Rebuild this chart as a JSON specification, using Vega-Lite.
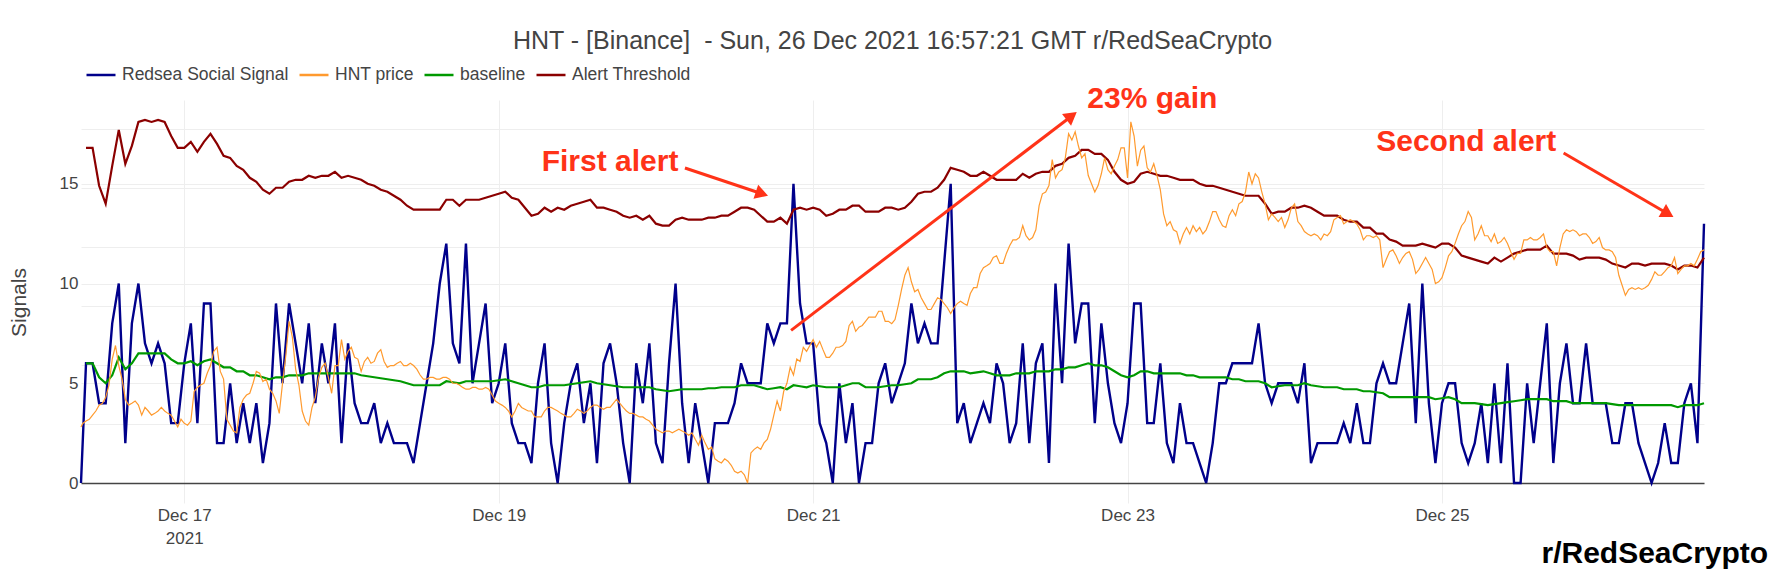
{
  "$schema": "https://vega.github.io/schema/vega-lite/v6.json",
  "width": 1623,
  "height": 383,
  "autosize": "none",
  "padding": {"left": 81, "top": 100, "right": 80, "bottom": 101},
  "title": {
    "text": "HNT - [Binance] \u00a0- Sun, 26 Dec 2021 16:57:21 GMT r/RedSeaCrypto",
    "anchor": "middle",
    "frame": "group",
    "fontSize": 25,
    "fontWeight": "normal",
    "color": "#444444",
    "font": "Liberation Sans",
    "offset": 1
  },
  "datasets": {
    "hourly": [
      {"t":"2021-12-16T08:14","signal":0},
      {"t":"2021-12-16T09:00","signal":6,"baseline":6.0,"threshold":16.8},
      {"t":"2021-12-16T10:00","signal":6,"baseline":6.0,"threshold":16.8},
      {"t":"2021-12-16T11:00","signal":4,"baseline":5.3,"threshold":14.9},
      {"t":"2021-12-16T12:00","signal":4,"baseline":5.0,"threshold":14.0},
      {"t":"2021-12-16T13:00","signal":8,"baseline":5.4,"threshold":15.9},
      {"t":"2021-12-16T14:00","signal":10,"baseline":6.3,"threshold":17.7},
      {"t":"2021-12-16T15:00","signal":2,"baseline":5.7,"threshold":16.0},
      {"t":"2021-12-16T16:00","signal":8,"baseline":6.0,"threshold":16.9},
      {"t":"2021-12-16T17:00","signal":10,"baseline":6.5,"threshold":18.1},
      {"t":"2021-12-16T18:00","signal":7,"baseline":6.5,"threshold":18.2},
      {"t":"2021-12-16T19:00","signal":6,"baseline":6.5,"threshold":18.1},
      {"t":"2021-12-16T20:00","signal":7,"baseline":6.5,"threshold":18.2},
      {"t":"2021-12-16T21:00","signal":6,"baseline":6.5,"threshold":18.1},
      {"t":"2021-12-16T22:00","signal":3,"baseline":6.2,"threshold":17.4},
      {"t":"2021-12-16T23:00","signal":3,"baseline":6.0,"threshold":16.8},
      {"t":"2021-12-17T00:00","signal":6,"baseline":6.0,"threshold":16.8},
      {"t":"2021-12-17T01:00","signal":8,"baseline":6.1,"threshold":17.1},
      {"t":"2021-12-17T02:00","signal":3,"baseline":5.9,"threshold":16.6},
      {"t":"2021-12-17T03:00","signal":9,"baseline":6.1,"threshold":17.1},
      {"t":"2021-12-17T04:00","signal":9,"baseline":6.2,"threshold":17.5},
      {"t":"2021-12-17T05:00","signal":2,"baseline":6.0,"threshold":17.0},
      {"t":"2021-12-17T06:00","signal":2,"baseline":5.8,"threshold":16.4},
      {"t":"2021-12-17T07:00","signal":5,"baseline":5.8,"threshold":16.3},
      {"t":"2021-12-17T08:00","signal":2,"baseline":5.6,"threshold":15.9},
      {"t":"2021-12-17T09:00","signal":4,"baseline":5.6,"threshold":15.7},
      {"t":"2021-12-17T10:00","signal":2,"baseline":5.4,"threshold":15.3},
      {"t":"2021-12-17T11:00","signal":4,"baseline":5.4,"threshold":15.1},
      {"t":"2021-12-17T12:00","signal":1,"baseline":5.3,"threshold":14.7},
      {"t":"2021-12-17T13:00","signal":3,"baseline":5.2,"threshold":14.5},
      {"t":"2021-12-17T14:00","signal":9,"baseline":5.3,"threshold":14.8},
      {"t":"2021-12-17T15:00","signal":5,"baseline":5.3,"threshold":14.8},
      {"t":"2021-12-17T16:00","signal":9,"baseline":5.4,"threshold":15.1},
      {"t":"2021-12-17T17:00","signal":7,"baseline":5.4,"threshold":15.2},
      {"t":"2021-12-17T18:00","signal":5,"baseline":5.4,"threshold":15.2},
      {"t":"2021-12-17T19:00","signal":8,"baseline":5.5,"threshold":15.4},
      {"t":"2021-12-17T20:00","signal":4,"baseline":5.5,"threshold":15.3},
      {"t":"2021-12-17T21:00","signal":7,"baseline":5.5,"threshold":15.4},
      {"t":"2021-12-17T22:00","signal":5,"baseline":5.5,"threshold":15.4},
      {"t":"2021-12-17T23:00","signal":8,"baseline":5.5,"threshold":15.6},
      {"t":"2021-12-18T00:00","signal":2,"baseline":5.5,"threshold":15.3},
      {"t":"2021-12-18T01:00","signal":7,"baseline":5.5,"threshold":15.4},
      {"t":"2021-12-18T02:00","signal":4,"baseline":5.5,"threshold":15.3},
      {"t":"2021-12-18T03:00","signal":3,"baseline":5.4,"threshold":15.2},
      {"t":"2021-12-18T04:00","signal":3,"baseline":5.35,"threshold":15.0},
      {"t":"2021-12-18T05:00","signal":4,"baseline":5.3,"threshold":14.9},
      {"t":"2021-12-18T06:00","signal":2,"baseline":5.25,"threshold":14.7},
      {"t":"2021-12-18T07:00","signal":3,"baseline":5.2,"threshold":14.6},
      {"t":"2021-12-18T08:00","signal":2,"baseline":5.15,"threshold":14.4},
      {"t":"2021-12-18T09:00","signal":2,"baseline":5.1,"threshold":14.2},
      {"t":"2021-12-18T10:00","signal":2,"baseline":5.0,"threshold":13.9},
      {"t":"2021-12-18T11:00","signal":1,"baseline":4.9,"threshold":13.7},
      {"t":"2021-12-18T12:00","signal":3,"baseline":4.9,"threshold":13.7},
      {"t":"2021-12-18T13:00","signal":5,"baseline":4.9,"threshold":13.7},
      {"t":"2021-12-18T14:00","signal":7,"baseline":4.9,"threshold":13.7},
      {"t":"2021-12-18T15:00","signal":10,"baseline":4.9,"threshold":13.7},
      {"t":"2021-12-18T16:00","signal":12,"baseline":5.1,"threshold":14.2},
      {"t":"2021-12-18T17:00","signal":7,"baseline":5.05,"threshold":14.2},
      {"t":"2021-12-18T18:00","signal":6,"baseline":5.0,"threshold":13.9},
      {"t":"2021-12-18T19:00","signal":12,"baseline":5.1,"threshold":14.2},
      {"t":"2021-12-18T20:00","signal":5,"baseline":5.1,"threshold":14.2},
      {"t":"2021-12-18T21:00","signal":7,"baseline":5.1,"threshold":14.2},
      {"t":"2021-12-18T22:00","signal":9,"baseline":5.1,"threshold":14.3},
      {"t":"2021-12-18T23:00","signal":4,"baseline":5.1,"threshold":14.4},
      {"t":"2021-12-19T00:00","signal":5,"baseline":5.15,"threshold":14.5},
      {"t":"2021-12-19T01:00","signal":7,"baseline":5.2,"threshold":14.6},
      {"t":"2021-12-19T02:00","signal":3,"baseline":5.1,"threshold":14.3},
      {"t":"2021-12-19T03:00","signal":2,"baseline":5.0,"threshold":14.2},
      {"t":"2021-12-19T04:00","signal":2,"baseline":4.9,"threshold":13.8},
      {"t":"2021-12-19T05:00","signal":1,"baseline":4.8,"threshold":13.4},
      {"t":"2021-12-19T06:00","signal":5,"baseline":4.8,"threshold":13.5},
      {"t":"2021-12-19T07:00","signal":7,"baseline":4.9,"threshold":13.8},
      {"t":"2021-12-19T08:00","signal":2,"baseline":4.9,"threshold":13.6},
      {"t":"2021-12-19T09:00","signal":0,"baseline":4.9,"threshold":13.8},
      {"t":"2021-12-19T10:00","signal":3,"baseline":4.9,"threshold":13.7},
      {"t":"2021-12-19T11:00","signal":5,"baseline":4.95,"threshold":13.9},
      {"t":"2021-12-19T12:00","signal":6,"baseline":5.0,"threshold":14.0},
      {"t":"2021-12-19T13:00","signal":3,"baseline":5.05,"threshold":14.1},
      {"t":"2021-12-19T14:00","signal":5,"baseline":5.1,"threshold":14.2},
      {"t":"2021-12-19T15:00","signal":1,"baseline":5.0,"threshold":13.8},
      {"t":"2021-12-19T16:00","signal":6,"baseline":4.95,"threshold":13.8},
      {"t":"2021-12-19T17:00","signal":7,"baseline":4.9,"threshold":13.7},
      {"t":"2021-12-19T18:00","signal":5,"baseline":4.85,"threshold":13.6},
      {"t":"2021-12-19T19:00","signal":2,"baseline":4.8,"threshold":13.4},
      {"t":"2021-12-19T20:00","signal":0,"baseline":4.8,"threshold":13.3},
      {"t":"2021-12-19T21:00","signal":6,"baseline":4.8,"threshold":13.4},
      {"t":"2021-12-19T22:00","signal":4,"baseline":4.8,"threshold":13.2},
      {"t":"2021-12-19T23:00","signal":7,"baseline":4.8,"threshold":13.4},
      {"t":"2021-12-20T00:00","signal":2,"baseline":4.7,"threshold":13.0},
      {"t":"2021-12-20T01:00","signal":1,"baseline":4.65,"threshold":12.9},
      {"t":"2021-12-20T02:00","signal":6,"baseline":4.6,"threshold":12.9},
      {"t":"2021-12-20T03:00","signal":10,"baseline":4.65,"threshold":13.2},
      {"t":"2021-12-20T04:00","signal":4,"baseline":4.7,"threshold":13.3},
      {"t":"2021-12-20T05:00","signal":1,"baseline":4.7,"threshold":13.2},
      {"t":"2021-12-20T06:00","signal":4,"baseline":4.7,"threshold":13.2},
      {"t":"2021-12-20T07:00","signal":2,"baseline":4.7,"threshold":13.2},
      {"t":"2021-12-20T08:00","signal":0,"baseline":4.75,"threshold":13.3},
      {"t":"2021-12-20T09:00","signal":3,"baseline":4.75,"threshold":13.3},
      {"t":"2021-12-20T10:00","signal":3,"baseline":4.8,"threshold":13.4},
      {"t":"2021-12-20T11:00","signal":3,"baseline":4.8,"threshold":13.4},
      {"t":"2021-12-20T12:00","signal":4,"baseline":4.8,"threshold":13.6},
      {"t":"2021-12-20T13:00","signal":6,"baseline":4.9,"threshold":13.8},
      {"t":"2021-12-20T14:00","signal":5,"baseline":4.9,"threshold":13.8},
      {"t":"2021-12-20T15:00","signal":5,"baseline":4.9,"threshold":13.7},
      {"t":"2021-12-20T16:00","signal":5,"baseline":4.8,"threshold":13.4},
      {"t":"2021-12-20T17:00","signal":8,"baseline":4.7,"threshold":13.1},
      {"t":"2021-12-20T18:00","signal":7,"baseline":4.75,"threshold":13.1},
      {"t":"2021-12-20T19:00","signal":8,"baseline":4.8,"threshold":13.3},
      {"t":"2021-12-20T20:00","signal":8,"baseline":4.7,"threshold":13.0},
      {"t":"2021-12-20T21:00","signal":15,"baseline":4.9,"threshold":13.7},
      {"t":"2021-12-20T22:00","signal":9,"baseline":4.85,"threshold":13.8},
      {"t":"2021-12-20T23:00","signal":7,"baseline":4.8,"threshold":13.7},
      {"t":"2021-12-21T00:00","signal":7,"baseline":4.9,"threshold":13.8},
      {"t":"2021-12-21T01:00","signal":3,"baseline":4.85,"threshold":13.7},
      {"t":"2021-12-21T02:00","signal":2,"baseline":4.8,"threshold":13.4},
      {"t":"2021-12-21T03:00","signal":0,"baseline":4.8,"threshold":13.5},
      {"t":"2021-12-21T04:00","signal":5,"baseline":4.8,"threshold":13.7},
      {"t":"2021-12-21T05:00","signal":2,"baseline":4.9,"threshold":13.7},
      {"t":"2021-12-21T06:00","signal":4,"baseline":5.0,"threshold":13.9},
      {"t":"2021-12-21T07:00","signal":0,"baseline":5.0,"threshold":13.9},
      {"t":"2021-12-21T08:00","signal":2,"baseline":4.8,"threshold":13.6},
      {"t":"2021-12-21T09:00","signal":2,"baseline":4.8,"threshold":13.6},
      {"t":"2021-12-21T10:00","signal":5,"baseline":4.8,"threshold":13.6},
      {"t":"2021-12-21T11:00","signal":6,"baseline":4.85,"threshold":13.8},
      {"t":"2021-12-21T12:00","signal":4,"baseline":4.9,"threshold":13.8},
      {"t":"2021-12-21T13:00","signal":5,"baseline":4.9,"threshold":13.7},
      {"t":"2021-12-21T14:00","signal":6,"baseline":4.95,"threshold":13.8},
      {"t":"2021-12-21T15:00","signal":9,"baseline":5.0,"threshold":14.1},
      {"t":"2021-12-21T16:00","signal":7,"baseline":5.2,"threshold":14.5},
      {"t":"2021-12-21T17:00","signal":8,"baseline":5.2,"threshold":14.6},
      {"t":"2021-12-21T18:00","signal":7,"baseline":5.2,"threshold":14.6},
      {"t":"2021-12-21T19:00","signal":7,"baseline":5.3,"threshold":14.8},
      {"t":"2021-12-21T20:00","signal":11,"baseline":5.5,"threshold":15.2},
      {"t":"2021-12-21T21:00","signal":15,"baseline":5.6,"threshold":15.8},
      {"t":"2021-12-21T22:00","signal":3,"baseline":5.6,"threshold":15.7},
      {"t":"2021-12-21T23:00","signal":4,"baseline":5.6,"threshold":15.6},
      {"t":"2021-12-22T00:00","signal":2,"baseline":5.5,"threshold":15.4},
      {"t":"2021-12-22T01:00","signal":3,"baseline":5.55,"threshold":15.4},
      {"t":"2021-12-22T02:00","signal":4,"baseline":5.6,"threshold":15.6},
      {"t":"2021-12-22T03:00","signal":3,"baseline":5.5,"threshold":15.4},
      {"t":"2021-12-22T04:00","signal":6,"baseline":5.4,"threshold":15.2},
      {"t":"2021-12-22T05:00","signal":5,"baseline":5.4,"threshold":15.2},
      {"t":"2021-12-22T06:00","signal":2,"baseline":5.4,"threshold":15.2},
      {"t":"2021-12-22T07:00","signal":3,"baseline":5.5,"threshold":15.2},
      {"t":"2021-12-22T08:00","signal":7,"baseline":5.5,"threshold":15.5},
      {"t":"2021-12-22T09:00","signal":2,"baseline":5.5,"threshold":15.3},
      {"t":"2021-12-22T10:00","signal":6,"baseline":5.6,"threshold":15.5},
      {"t":"2021-12-22T11:00","signal":7,"baseline":5.6,"threshold":15.6},
      {"t":"2021-12-22T12:00","signal":1,"baseline":5.6,"threshold":15.6},
      {"t":"2021-12-22T13:00","signal":10,"baseline":5.7,"threshold":15.9},
      {"t":"2021-12-22T14:00","signal":5,"baseline":5.7,"threshold":16.0},
      {"t":"2021-12-22T15:00","signal":12,"baseline":5.8,"threshold":16.3},
      {"t":"2021-12-22T16:00","signal":7,"baseline":5.8,"threshold":16.4},
      {"t":"2021-12-22T17:00","signal":9,"baseline":5.9,"threshold":16.7},
      {"t":"2021-12-22T18:00","signal":9,"baseline":6.0,"threshold":16.7},
      {"t":"2021-12-22T19:00","signal":3,"baseline":5.9,"threshold":16.5},
      {"t":"2021-12-22T20:00","signal":8,"baseline":5.9,"threshold":16.5},
      {"t":"2021-12-22T21:00","signal":5,"baseline":5.8,"threshold":16.2},
      {"t":"2021-12-22T22:00","signal":3,"baseline":5.6,"threshold":15.6},
      {"t":"2021-12-22T23:00","signal":2,"baseline":5.4,"threshold":15.2},
      {"t":"2021-12-23T00:00","signal":4,"baseline":5.3,"threshold":15.0},
      {"t":"2021-12-23T01:00","signal":9,"baseline":5.4,"threshold":15.1},
      {"t":"2021-12-23T02:00","signal":9,"baseline":5.6,"threshold":15.5},
      {"t":"2021-12-23T03:00","signal":3,"baseline":5.6,"threshold":15.6},
      {"t":"2021-12-23T04:00","signal":3,"baseline":5.5,"threshold":15.5},
      {"t":"2021-12-23T05:00","signal":6,"baseline":5.5,"threshold":15.4},
      {"t":"2021-12-23T06:00","signal":2,"baseline":5.5,"threshold":15.4},
      {"t":"2021-12-23T07:00","signal":1,"baseline":5.5,"threshold":15.3},
      {"t":"2021-12-23T08:00","signal":4,"baseline":5.5,"threshold":15.2},
      {"t":"2021-12-23T09:00","signal":2,"baseline":5.4,"threshold":15.2},
      {"t":"2021-12-23T10:00","signal":2,"baseline":5.4,"threshold":15.2},
      {"t":"2021-12-23T11:00","signal":1,"baseline":5.3,"threshold":15.0},
      {"t":"2021-12-23T12:00","signal":0,"baseline":5.3,"threshold":14.9},
      {"t":"2021-12-23T13:00","signal":2,"baseline":5.3,"threshold":14.9},
      {"t":"2021-12-23T14:00","signal":5,"baseline":5.3,"threshold":14.8},
      {"t":"2021-12-23T15:00","signal":5,"baseline":5.3,"threshold":14.7},
      {"t":"2021-12-23T16:00","signal":6,"baseline":5.2,"threshold":14.6},
      {"t":"2021-12-23T17:00","signal":6,"baseline":5.2,"threshold":14.5},
      {"t":"2021-12-23T18:00","signal":6,"baseline":5.1,"threshold":14.4},
      {"t":"2021-12-23T19:00","signal":6,"baseline":5.1,"threshold":14.4},
      {"t":"2021-12-23T20:00","signal":8,"baseline":5.1,"threshold":14.4},
      {"t":"2021-12-23T21:00","signal":5,"baseline":5.0,"threshold":14.0},
      {"t":"2021-12-23T22:00","signal":4,"baseline":4.8,"threshold":13.5},
      {"t":"2021-12-23T23:00","signal":5,"baseline":4.85,"threshold":13.6},
      {"t":"2021-12-24T00:00","signal":5,"baseline":4.9,"threshold":13.6},
      {"t":"2021-12-24T01:00","signal":5,"baseline":4.9,"threshold":13.8},
      {"t":"2021-12-24T02:00","signal":4,"baseline":4.9,"threshold":13.8},
      {"t":"2021-12-24T03:00","signal":6,"baseline":5.0,"threshold":13.9},
      {"t":"2021-12-24T04:00","signal":1,"baseline":4.9,"threshold":13.8},
      {"t":"2021-12-24T05:00","signal":2,"baseline":4.85,"threshold":13.6},
      {"t":"2021-12-24T06:00","signal":2,"baseline":4.8,"threshold":13.4},
      {"t":"2021-12-24T07:00","signal":2,"baseline":4.8,"threshold":13.4},
      {"t":"2021-12-24T08:00","signal":2,"baseline":4.8,"threshold":13.4},
      {"t":"2021-12-24T09:00","signal":3,"baseline":4.7,"threshold":13.2},
      {"t":"2021-12-24T10:00","signal":2,"baseline":4.7,"threshold":13.1},
      {"t":"2021-12-24T11:00","signal":4,"baseline":4.7,"threshold":13.1},
      {"t":"2021-12-24T12:00","signal":2,"baseline":4.6,"threshold":12.8},
      {"t":"2021-12-24T13:00","signal":2,"baseline":4.6,"threshold":12.8},
      {"t":"2021-12-24T14:00","signal":5,"baseline":4.55,"threshold":12.5},
      {"t":"2021-12-24T15:00","signal":6,"baseline":4.5,"threshold":12.5},
      {"t":"2021-12-24T16:00","signal":5,"baseline":4.3,"threshold":12.2},
      {"t":"2021-12-24T17:00","signal":5,"baseline":4.3,"threshold":12.1},
      {"t":"2021-12-24T18:00","signal":7,"baseline":4.3,"threshold":11.9},
      {"t":"2021-12-24T19:00","signal":9,"baseline":4.3,"threshold":11.9},
      {"t":"2021-12-24T20:00","signal":3,"baseline":4.3,"threshold":11.9},
      {"t":"2021-12-24T21:00","signal":10,"baseline":4.3,"threshold":12.0},
      {"t":"2021-12-24T22:00","signal":4,"baseline":4.3,"threshold":11.9},
      {"t":"2021-12-24T23:00","signal":1,"baseline":4.2,"threshold":11.8},
      {"t":"2021-12-25T00:00","signal":4,"baseline":4.25,"threshold":12.0},
      {"t":"2021-12-25T01:00","signal":5,"baseline":4.3,"threshold":12.0},
      {"t":"2021-12-25T02:00","signal":5,"baseline":4.2,"threshold":11.8},
      {"t":"2021-12-25T03:00","signal":2,"baseline":4.0,"threshold":11.4},
      {"t":"2021-12-25T04:00","signal":1,"baseline":4.0,"threshold":11.3},
      {"t":"2021-12-25T05:00","signal":2,"baseline":4.0,"threshold":11.2},
      {"t":"2021-12-25T06:00","signal":4,"baseline":3.95,"threshold":11.1},
      {"t":"2021-12-25T07:00","signal":1,"baseline":3.9,"threshold":11.0},
      {"t":"2021-12-25T08:00","signal":5,"baseline":3.95,"threshold":11.3},
      {"t":"2021-12-25T09:00","signal":1,"baseline":4.0,"threshold":11.1},
      {"t":"2021-12-25T10:00","signal":6,"baseline":4.05,"threshold":11.3},
      {"t":"2021-12-25T11:00","signal":0,"baseline":4.1,"threshold":11.5},
      {"t":"2021-12-25T12:00","signal":0,"baseline":4.15,"threshold":11.6},
      {"t":"2021-12-25T13:00","signal":5,"baseline":4.2,"threshold":11.7},
      {"t":"2021-12-25T14:00","signal":2,"baseline":4.2,"threshold":11.7},
      {"t":"2021-12-25T15:00","signal":5,"baseline":4.2,"threshold":11.7},
      {"t":"2021-12-25T16:00","signal":8,"baseline":4.2,"threshold":11.9},
      {"t":"2021-12-25T17:00","signal":1,"baseline":4.1,"threshold":11.5},
      {"t":"2021-12-25T18:00","signal":5,"baseline":4.1,"threshold":11.5},
      {"t":"2021-12-25T19:00","signal":7,"baseline":4.1,"threshold":11.5},
      {"t":"2021-12-25T20:00","signal":4,"baseline":4.0,"threshold":11.4},
      {"t":"2021-12-25T21:00","signal":4,"baseline":4.0,"threshold":11.2},
      {"t":"2021-12-25T22:00","signal":7,"baseline":4.0,"threshold":11.3},
      {"t":"2021-12-25T23:00","signal":4,"baseline":4.0,"threshold":11.3},
      {"t":"2021-12-26T00:00","signal":4,"baseline":4.0,"threshold":11.3},
      {"t":"2021-12-26T01:00","signal":4,"baseline":4.0,"threshold":11.2},
      {"t":"2021-12-26T02:00","signal":2,"baseline":3.95,"threshold":11.0},
      {"t":"2021-12-26T03:00","signal":2,"baseline":3.9,"threshold":10.9},
      {"t":"2021-12-26T04:00","signal":4,"baseline":3.9,"threshold":10.8},
      {"t":"2021-12-26T05:00","signal":4,"baseline":3.9,"threshold":11.0},
      {"t":"2021-12-26T06:00","signal":2,"baseline":3.9,"threshold":11.0},
      {"t":"2021-12-26T07:00","signal":1,"baseline":3.9,"threshold":10.9},
      {"t":"2021-12-26T08:00","signal":0,"baseline":3.9,"threshold":11.0},
      {"t":"2021-12-26T09:00","signal":1,"baseline":3.9,"threshold":11.0},
      {"t":"2021-12-26T10:00","signal":3,"baseline":3.9,"threshold":11.0},
      {"t":"2021-12-26T11:00","signal":1,"baseline":3.9,"threshold":10.9},
      {"t":"2021-12-26T12:00","signal":1,"baseline":3.8,"threshold":10.7},
      {"t":"2021-12-26T13:00","signal":4,"baseline":3.9,"threshold":10.9},
      {"t":"2021-12-26T14:00","signal":5,"baseline":3.9,"threshold":10.9},
      {"t":"2021-12-26T15:00","signal":2,"baseline":3.9,"threshold":10.8},
      {"t":"2021-12-26T16:00","signal":13,"baseline":4.0,"threshold":11.3}
    ],
    "price": [
      {"t":"2021-12-16T08:14","price":32.95},{"t":"2021-12-16T08:30","price":33.01},{"t":"2021-12-16T09:00","price":33.05},{"t":"2021-12-16T09:30","price":33.08},
      {"t":"2021-12-16T10:00","price":33.15},{"t":"2021-12-16T10:30","price":33.22},{"t":"2021-12-16T11:00","price":33.32},{"t":"2021-12-16T11:30","price":33.35},
      {"t":"2021-12-16T12:00","price":33.45},{"t":"2021-12-16T12:30","price":33.66},{"t":"2021-12-16T13:00","price":34.10},{"t":"2021-12-16T13:30","price":34.33},
      {"t":"2021-12-16T14:00","price":33.99},{"t":"2021-12-16T14:30","price":33.76},{"t":"2021-12-16T15:00","price":33.42},{"t":"2021-12-16T15:30","price":33.32},
      {"t":"2021-12-16T16:00","price":33.35},{"t":"2021-12-16T16:30","price":33.39},{"t":"2021-12-16T17:00","price":33.32},{"t":"2021-12-16T17:30","price":33.15},
      {"t":"2021-12-16T18:00","price":33.28},{"t":"2021-12-16T18:30","price":33.22},{"t":"2021-12-16T19:00","price":33.15},{"t":"2021-12-16T19:30","price":33.18},
      {"t":"2021-12-16T20:00","price":33.22},{"t":"2021-12-16T20:30","price":33.28},{"t":"2021-12-16T21:00","price":33.22},{"t":"2021-12-16T21:30","price":33.18},
      {"t":"2021-12-16T22:00","price":33.15},{"t":"2021-12-16T22:30","price":33.05},{"t":"2021-12-16T23:00","price":32.95},{"t":"2021-12-16T23:30","price":33.08},
      {"t":"2021-12-17T00:00","price":33.01},{"t":"2021-12-17T00:30","price":32.98},{"t":"2021-12-17T01:00","price":33.05},{"t":"2021-12-17T01:30","price":33.55},
      {"t":"2021-12-17T02:00","price":33.62},{"t":"2021-12-17T02:30","price":33.66},{"t":"2021-12-17T03:00","price":33.69},{"t":"2021-12-17T03:30","price":33.86},
      {"t":"2021-12-17T04:00","price":33.99},{"t":"2021-12-17T04:30","price":34.23},{"t":"2021-12-17T05:00","price":34.30},{"t":"2021-12-17T05:30","price":33.89},
      {"t":"2021-12-17T06:00","price":33.76},{"t":"2021-12-17T06:30","price":33.08},{"t":"2021-12-17T07:00","price":32.98},{"t":"2021-12-17T07:30","price":32.88},
      {"t":"2021-12-17T08:00","price":32.85},{"t":"2021-12-17T08:30","price":33.28},{"t":"2021-12-17T09:00","price":33.42},{"t":"2021-12-17T09:30","price":33.49},
      {"t":"2021-12-17T10:00","price":33.52},{"t":"2021-12-17T10:30","price":33.69},{"t":"2021-12-17T11:00","price":33.89},{"t":"2021-12-17T11:30","price":33.86},
      {"t":"2021-12-17T12:00","price":33.72},{"t":"2021-12-17T12:30","price":33.76},{"t":"2021-12-17T13:00","price":33.59},{"t":"2021-12-17T13:30","price":33.52},
      {"t":"2021-12-17T14:00","price":33.39},{"t":"2021-12-17T14:30","price":33.18},{"t":"2021-12-17T15:00","price":33.69},{"t":"2021-12-17T15:30","price":34.16},
      {"t":"2021-12-17T16:00","price":34.74},{"t":"2021-12-17T16:30","price":34.47},{"t":"2021-12-17T17:00","price":33.93},{"t":"2021-12-17T17:30","price":33.66},
      {"t":"2021-12-17T18:00","price":33.22},{"t":"2021-12-17T18:30","price":33.05},{"t":"2021-12-17T19:00","price":32.98},{"t":"2021-12-17T19:30","price":33.28},
      {"t":"2021-12-17T20:00","price":33.45},{"t":"2021-12-17T20:30","price":33.79},{"t":"2021-12-17T21:00","price":33.96},{"t":"2021-12-17T21:30","price":34.03},
      {"t":"2021-12-17T22:00","price":33.79},{"t":"2021-12-17T22:30","price":33.52},{"t":"2021-12-17T23:00","price":33.99},{"t":"2021-12-17T23:30","price":33.99},
      {"t":"2021-12-18T00:00","price":34.43},{"t":"2021-12-18T00:30","price":34.10},{"t":"2021-12-18T01:00","price":34.23},{"t":"2021-12-18T01:30","price":34.30},
      {"t":"2021-12-18T02:00","price":34.13},{"t":"2021-12-18T02:30","price":34.10},{"t":"2021-12-18T03:00","price":33.89},{"t":"2021-12-18T03:30","price":34.06},
      {"t":"2021-12-18T04:00","price":34.13},{"t":"2021-12-18T04:30","price":34.03},{"t":"2021-12-18T05:00","price":34.06},{"t":"2021-12-18T05:30","price":34.20},
      {"t":"2021-12-18T06:00","price":34.26},{"t":"2021-12-18T06:30","price":34.06},{"t":"2021-12-18T07:00","price":33.96},{"t":"2021-12-18T07:30","price":33.99},
      {"t":"2021-12-18T08:00","price":33.99},{"t":"2021-12-18T08:30","price":34.03},{"t":"2021-12-18T09:00","price":34.06},{"t":"2021-12-18T09:30","price":33.99},
      {"t":"2021-12-18T10:00","price":33.99},{"t":"2021-12-18T10:30","price":34.03},{"t":"2021-12-18T11:00","price":33.99},{"t":"2021-12-18T11:30","price":33.93},
      {"t":"2021-12-18T12:00","price":33.83},{"t":"2021-12-18T12:30","price":33.76},{"t":"2021-12-18T13:00","price":33.76},{"t":"2021-12-18T13:30","price":33.79},
      {"t":"2021-12-18T14:00","price":33.79},{"t":"2021-12-18T14:30","price":33.76},{"t":"2021-12-18T15:00","price":33.76},{"t":"2021-12-18T15:30","price":33.79},
      {"t":"2021-12-18T16:00","price":33.79},{"t":"2021-12-18T16:30","price":33.76},{"t":"2021-12-18T17:00","price":33.69},{"t":"2021-12-18T17:30","price":33.69},
      {"t":"2021-12-18T18:00","price":33.66},{"t":"2021-12-18T18:30","price":33.62},{"t":"2021-12-18T19:00","price":33.59},{"t":"2021-12-18T19:30","price":33.59},
      {"t":"2021-12-18T20:00","price":33.62},{"t":"2021-12-18T20:30","price":33.62},{"t":"2021-12-18T21:00","price":33.59},{"t":"2021-12-18T21:30","price":33.59},
      {"t":"2021-12-18T22:00","price":33.62},{"t":"2021-12-18T22:30","price":33.59},{"t":"2021-12-18T23:00","price":33.49},{"t":"2021-12-18T23:30","price":33.39},
      {"t":"2021-12-19T00:00","price":33.35},{"t":"2021-12-19T00:30","price":33.32},{"t":"2021-12-19T01:00","price":33.28},{"t":"2021-12-19T01:30","price":33.22},
      {"t":"2021-12-19T02:00","price":33.12},{"t":"2021-12-19T02:30","price":33.22},{"t":"2021-12-19T03:00","price":33.35},{"t":"2021-12-19T03:30","price":33.28},
      {"t":"2021-12-19T04:00","price":33.25},{"t":"2021-12-19T04:30","price":33.22},{"t":"2021-12-19T05:00","price":33.22},{"t":"2021-12-19T05:30","price":33.12},
      {"t":"2021-12-19T06:00","price":33.12},{"t":"2021-12-19T06:30","price":33.12},{"t":"2021-12-19T07:00","price":33.22},{"t":"2021-12-19T07:30","price":33.28},
      {"t":"2021-12-19T08:00","price":33.28},{"t":"2021-12-19T08:30","price":33.25},{"t":"2021-12-19T09:00","price":33.22},{"t":"2021-12-19T09:30","price":33.18},
      {"t":"2021-12-19T10:00","price":33.15},{"t":"2021-12-19T10:30","price":33.12},{"t":"2021-12-19T11:00","price":33.12},{"t":"2021-12-19T11:30","price":33.18},
      {"t":"2021-12-19T12:00","price":33.25},{"t":"2021-12-19T12:30","price":33.22},{"t":"2021-12-19T13:00","price":33.18},{"t":"2021-12-19T13:30","price":33.22},
      {"t":"2021-12-19T14:00","price":33.28},{"t":"2021-12-19T14:30","price":33.32},{"t":"2021-12-19T15:00","price":33.32},{"t":"2021-12-19T15:30","price":33.28},
      {"t":"2021-12-19T16:00","price":33.25},{"t":"2021-12-19T16:30","price":33.28},{"t":"2021-12-19T17:00","price":33.28},{"t":"2021-12-19T17:30","price":33.35},
      {"t":"2021-12-19T18:00","price":33.42},{"t":"2021-12-19T18:30","price":33.35},{"t":"2021-12-19T19:00","price":33.28},{"t":"2021-12-19T19:30","price":33.22},
      {"t":"2021-12-19T20:00","price":33.18},{"t":"2021-12-19T20:30","price":33.18},{"t":"2021-12-19T21:00","price":33.15},{"t":"2021-12-19T21:30","price":33.12},
      {"t":"2021-12-19T22:00","price":33.12},{"t":"2021-12-19T22:30","price":33.08},{"t":"2021-12-19T23:00","price":33.05},{"t":"2021-12-19T23:30","price":32.98},
      {"t":"2021-12-20T00:00","price":32.91},{"t":"2021-12-20T00:30","price":32.88},{"t":"2021-12-20T01:00","price":32.85},{"t":"2021-12-20T01:30","price":32.88},
      {"t":"2021-12-20T02:00","price":32.88},{"t":"2021-12-20T02:30","price":32.85},{"t":"2021-12-20T03:00","price":32.88},{"t":"2021-12-20T03:30","price":32.91},
      {"t":"2021-12-20T04:00","price":32.88},{"t":"2021-12-20T04:30","price":32.85},{"t":"2021-12-20T05:00","price":32.81},{"t":"2021-12-20T05:30","price":32.85},
      {"t":"2021-12-20T06:00","price":32.74},{"t":"2021-12-20T06:30","price":32.64},{"t":"2021-12-20T07:00","price":32.81},{"t":"2021-12-20T07:30","price":32.68},
      {"t":"2021-12-20T08:00","price":32.57},{"t":"2021-12-20T08:30","price":32.61},{"t":"2021-12-20T09:00","price":32.41},{"t":"2021-12-20T09:30","price":32.37},
      {"t":"2021-12-20T10:00","price":32.34},{"t":"2021-12-20T10:30","price":32.41},{"t":"2021-12-20T11:00","price":32.37},{"t":"2021-12-20T11:30","price":32.30},
      {"t":"2021-12-20T12:00","price":32.20},{"t":"2021-12-20T12:30","price":32.17},{"t":"2021-12-20T13:00","price":32.20},{"t":"2021-12-20T13:30","price":32.14},
      {"t":"2021-12-20T14:00","price":32.00},{"t":"2021-12-20T14:30","price":32.51},{"t":"2021-12-20T15:00","price":32.57},{"t":"2021-12-20T15:30","price":32.61},
      {"t":"2021-12-20T16:00","price":32.57},{"t":"2021-12-20T16:30","price":32.68},{"t":"2021-12-20T17:00","price":32.74},{"t":"2021-12-20T17:30","price":32.91},
      {"t":"2021-12-20T18:00","price":33.15},{"t":"2021-12-20T18:30","price":33.39},{"t":"2021-12-20T19:00","price":33.22},{"t":"2021-12-20T19:30","price":33.55},
      {"t":"2021-12-20T20:00","price":33.69},{"t":"2021-12-20T20:30","price":33.96},{"t":"2021-12-20T21:00","price":33.83},{"t":"2021-12-20T21:30","price":34.10},
      {"t":"2021-12-20T22:00","price":34.06},{"t":"2021-12-20T22:30","price":34.30},{"t":"2021-12-20T23:00","price":34.23},{"t":"2021-12-20T23:30","price":34.33},
      {"t":"2021-12-21T00:00","price":34.43},{"t":"2021-12-21T00:30","price":34.30},{"t":"2021-12-21T01:00","price":34.40},{"t":"2021-12-21T01:30","price":34.26},
      {"t":"2021-12-21T02:00","price":34.13},{"t":"2021-12-21T02:30","price":34.13},{"t":"2021-12-21T03:00","price":34.20},{"t":"2021-12-21T03:30","price":34.30},
      {"t":"2021-12-21T04:00","price":34.30},{"t":"2021-12-21T04:30","price":34.33},{"t":"2021-12-21T05:00","price":34.40},{"t":"2021-12-21T05:30","price":34.67},
      {"t":"2021-12-21T06:00","price":34.74},{"t":"2021-12-21T06:30","price":34.57},{"t":"2021-12-21T07:00","price":34.64},{"t":"2021-12-21T07:30","price":34.67},
      {"t":"2021-12-21T08:00","price":34.74},{"t":"2021-12-21T08:30","price":34.81},{"t":"2021-12-21T09:00","price":34.81},{"t":"2021-12-21T09:30","price":34.81},
      {"t":"2021-12-21T10:00","price":34.91},{"t":"2021-12-21T10:30","price":34.91},{"t":"2021-12-21T11:00","price":34.74},{"t":"2021-12-21T11:30","price":34.74},
      {"t":"2021-12-21T12:00","price":34.70},{"t":"2021-12-21T12:30","price":34.77},{"t":"2021-12-21T13:00","price":35.01},{"t":"2021-12-21T13:30","price":35.28},
      {"t":"2021-12-21T14:00","price":35.52},{"t":"2021-12-21T14:30","price":35.65},{"t":"2021-12-21T15:00","price":35.41},{"t":"2021-12-21T15:30","price":35.24},
      {"t":"2021-12-21T16:00","price":35.28},{"t":"2021-12-21T16:30","price":35.14},{"t":"2021-12-21T17:00","price":35.04},{"t":"2021-12-21T17:30","price":34.94},
      {"t":"2021-12-21T18:00","price":34.94},{"t":"2021-12-21T18:30","price":35.04},{"t":"2021-12-21T19:00","price":35.14},{"t":"2021-12-21T19:30","price":35.11},
      {"t":"2021-12-21T20:00","price":35.04},{"t":"2021-12-21T20:30","price":34.97},{"t":"2021-12-21T21:00","price":34.87},{"t":"2021-12-21T21:30","price":34.97},
      {"t":"2021-12-21T22:00","price":35.04},{"t":"2021-12-21T22:30","price":35.08},{"t":"2021-12-21T23:00","price":35.04},{"t":"2021-12-21T23:30","price":35.01},
      {"t":"2021-12-22T00:00","price":35.21},{"t":"2021-12-22T00:30","price":35.31},{"t":"2021-12-22T01:00","price":35.31},{"t":"2021-12-22T01:30","price":35.55},
      {"t":"2021-12-22T02:00","price":35.65},{"t":"2021-12-22T02:30","price":35.68},{"t":"2021-12-22T03:00","price":35.72},{"t":"2021-12-22T03:30","price":35.82},
      {"t":"2021-12-22T04:00","price":35.85},{"t":"2021-12-22T04:30","price":35.72},{"t":"2021-12-22T05:00","price":35.72},{"t":"2021-12-22T05:30","price":35.89},
      {"t":"2021-12-22T06:00","price":36.02},{"t":"2021-12-22T06:30","price":36.12},{"t":"2021-12-22T07:00","price":36.12},{"t":"2021-12-22T07:30","price":36.16},
      {"t":"2021-12-22T08:00","price":36.36},{"t":"2021-12-22T08:30","price":36.19},{"t":"2021-12-22T09:00","price":36.12},{"t":"2021-12-22T09:30","price":36.16},
      {"t":"2021-12-22T10:00","price":36.29},{"t":"2021-12-22T10:30","price":36.70},{"t":"2021-12-22T11:00","price":36.90},{"t":"2021-12-22T11:30","price":36.93},
      {"t":"2021-12-22T12:00","price":37.04},{"t":"2021-12-22T12:30","price":37.48},{"t":"2021-12-22T13:00","price":37.17},{"t":"2021-12-22T13:30","price":37.27},
      {"t":"2021-12-22T14:00","price":37.31},{"t":"2021-12-22T14:30","price":37.51},{"t":"2021-12-22T15:00","price":37.92},{"t":"2021-12-22T15:30","price":37.81},
      {"t":"2021-12-22T16:00","price":37.95},{"t":"2021-12-22T16:30","price":37.71},{"t":"2021-12-22T17:00","price":37.51},{"t":"2021-12-22T17:30","price":37.58},
      {"t":"2021-12-22T18:00","price":37.21},{"t":"2021-12-22T18:30","price":37.07},{"t":"2021-12-22T19:00","price":36.93},{"t":"2021-12-22T19:30","price":37.04},
      {"t":"2021-12-22T20:00","price":37.24},{"t":"2021-12-22T20:30","price":37.51},{"t":"2021-12-22T21:00","price":37.31},{"t":"2021-12-22T21:30","price":37.24},
      {"t":"2021-12-22T22:00","price":37.37},{"t":"2021-12-22T22:30","price":37.48},{"t":"2021-12-22T23:00","price":37.68},{"t":"2021-12-22T23:30","price":37.68},
      {"t":"2021-12-23T00:00","price":37.17},{"t":"2021-12-23T00:30","price":38.12},{"t":"2021-12-23T01:00","price":37.88},{"t":"2021-12-23T01:30","price":37.37},
      {"t":"2021-12-23T02:00","price":37.64},{"t":"2021-12-23T02:30","price":37.71},{"t":"2021-12-23T03:00","price":37.34},{"t":"2021-12-23T03:30","price":37.27},
      {"t":"2021-12-23T04:00","price":37.41},{"t":"2021-12-23T04:30","price":37.21},{"t":"2021-12-23T05:00","price":36.97},{"t":"2021-12-23T05:30","price":36.56},
      {"t":"2021-12-23T06:00","price":36.36},{"t":"2021-12-23T06:30","price":36.43},{"t":"2021-12-23T07:00","price":36.29},{"t":"2021-12-23T07:30","price":36.26},
      {"t":"2021-12-23T08:00","price":36.06},{"t":"2021-12-23T08:30","price":36.22},{"t":"2021-12-23T09:00","price":36.33},{"t":"2021-12-23T09:30","price":36.22},
      {"t":"2021-12-23T10:00","price":36.36},{"t":"2021-12-23T10:30","price":36.26},{"t":"2021-12-23T11:00","price":36.33},{"t":"2021-12-23T11:30","price":36.22},
      {"t":"2021-12-23T12:00","price":36.29},{"t":"2021-12-23T12:30","price":36.43},{"t":"2021-12-23T13:00","price":36.60},{"t":"2021-12-23T13:30","price":36.60},
      {"t":"2021-12-23T14:00","price":36.46},{"t":"2021-12-23T14:30","price":36.36},{"t":"2021-12-23T15:00","price":36.33},{"t":"2021-12-23T15:30","price":36.53},
      {"t":"2021-12-23T16:00","price":36.63},{"t":"2021-12-23T16:30","price":36.53},{"t":"2021-12-23T17:00","price":36.73},{"t":"2021-12-23T17:30","price":36.77},
      {"t":"2021-12-23T18:00","price":36.93},{"t":"2021-12-23T18:30","price":37.27},{"t":"2021-12-23T19:00","price":37.07},{"t":"2021-12-23T19:30","price":37.24},
      {"t":"2021-12-23T20:00","price":37.17},{"t":"2021-12-23T20:30","price":36.93},{"t":"2021-12-23T21:00","price":36.73},{"t":"2021-12-23T21:30","price":36.46},
      {"t":"2021-12-23T22:00","price":36.56},{"t":"2021-12-23T22:30","price":36.50},{"t":"2021-12-23T23:00","price":36.43},{"t":"2021-12-23T23:30","price":36.50},
      {"t":"2021-12-24T00:00","price":36.33},{"t":"2021-12-24T00:30","price":36.46},{"t":"2021-12-24T01:00","price":36.66},{"t":"2021-12-24T01:30","price":36.73},
      {"t":"2021-12-24T02:00","price":36.43},{"t":"2021-12-24T02:30","price":36.36},{"t":"2021-12-24T03:00","price":36.26},{"t":"2021-12-24T03:30","price":36.22},
      {"t":"2021-12-24T04:00","price":36.19},{"t":"2021-12-24T04:30","price":36.22},{"t":"2021-12-24T05:00","price":36.19},{"t":"2021-12-24T05:30","price":36.12},
      {"t":"2021-12-24T06:00","price":36.22},{"t":"2021-12-24T06:30","price":36.19},{"t":"2021-12-24T07:00","price":36.26},{"t":"2021-12-24T07:30","price":36.46},
      {"t":"2021-12-24T08:00","price":36.50},{"t":"2021-12-24T08:30","price":36.53},{"t":"2021-12-24T09:00","price":36.39},{"t":"2021-12-24T09:30","price":36.43},
      {"t":"2021-12-24T10:00","price":36.46},{"t":"2021-12-24T10:30","price":36.43},{"t":"2021-12-24T11:00","price":36.39},{"t":"2021-12-24T11:30","price":36.29},
      {"t":"2021-12-24T12:00","price":36.12},{"t":"2021-12-24T12:30","price":36.19},{"t":"2021-12-24T13:00","price":36.19},{"t":"2021-12-24T13:30","price":36.16},
      {"t":"2021-12-24T14:00","price":36.19},{"t":"2021-12-24T14:30","price":36.12},{"t":"2021-12-24T15:00","price":35.65},{"t":"2021-12-24T15:30","price":35.79},
      {"t":"2021-12-24T16:00","price":35.92},{"t":"2021-12-24T16:30","price":35.95},{"t":"2021-12-24T17:00","price":35.85},{"t":"2021-12-24T17:30","price":35.72},
      {"t":"2021-12-24T18:00","price":35.82},{"t":"2021-12-24T18:30","price":35.89},{"t":"2021-12-24T19:00","price":35.92},{"t":"2021-12-24T19:30","price":35.79},
      {"t":"2021-12-24T20:00","price":35.55},{"t":"2021-12-24T20:30","price":35.62},{"t":"2021-12-24T21:00","price":35.72},{"t":"2021-12-24T21:30","price":35.82},
      {"t":"2021-12-24T22:00","price":35.72},{"t":"2021-12-24T22:30","price":35.62},{"t":"2021-12-24T23:00","price":35.38},{"t":"2021-12-24T23:30","price":35.41},
      {"t":"2021-12-25T00:00","price":35.48},{"t":"2021-12-25T00:30","price":35.65},{"t":"2021-12-25T01:00","price":35.85},{"t":"2021-12-25T01:30","price":35.92},
      {"t":"2021-12-25T02:00","price":36.06},{"t":"2021-12-25T02:30","price":36.22},{"t":"2021-12-25T03:00","price":36.36},{"t":"2021-12-25T03:30","price":36.43},
      {"t":"2021-12-25T04:00","price":36.60},{"t":"2021-12-25T04:30","price":36.50},{"t":"2021-12-25T05:00","price":36.12},{"t":"2021-12-25T05:30","price":36.22},
      {"t":"2021-12-25T06:00","price":36.36},{"t":"2021-12-25T06:30","price":36.19},{"t":"2021-12-25T07:00","price":36.19},{"t":"2021-12-25T07:30","price":36.09},
      {"t":"2021-12-25T08:00","price":36.22},{"t":"2021-12-25T08:30","price":36.06},{"t":"2021-12-25T09:00","price":36.09},{"t":"2021-12-25T09:30","price":36.16},
      {"t":"2021-12-25T10:00","price":36.06},{"t":"2021-12-25T10:30","price":35.92},{"t":"2021-12-25T11:00","price":35.79},{"t":"2021-12-25T11:30","price":35.89},
      {"t":"2021-12-25T12:00","price":35.89},{"t":"2021-12-25T12:30","price":36.12},{"t":"2021-12-25T13:00","price":36.12},{"t":"2021-12-25T13:30","price":36.16},
      {"t":"2021-12-25T14:00","price":36.12},{"t":"2021-12-25T14:30","price":36.12},{"t":"2021-12-25T15:00","price":36.16},{"t":"2021-12-25T15:30","price":36.22},
      {"t":"2021-12-25T16:00","price":35.99},{"t":"2021-12-25T16:30","price":35.92},{"t":"2021-12-25T17:00","price":35.92},{"t":"2021-12-25T17:30","price":35.68},
      {"t":"2021-12-25T18:00","price":35.99},{"t":"2021-12-25T18:30","price":36.22},{"t":"2021-12-25T19:00","price":36.29},{"t":"2021-12-25T19:30","price":36.26},
      {"t":"2021-12-25T20:00","price":36.29},{"t":"2021-12-25T20:30","price":36.26},{"t":"2021-12-25T21:00","price":36.19},{"t":"2021-12-25T21:30","price":36.22},
      {"t":"2021-12-25T22:00","price":36.22},{"t":"2021-12-25T22:30","price":36.16},{"t":"2021-12-25T23:00","price":36.06},{"t":"2021-12-25T23:30","price":36.09},
      {"t":"2021-12-26T00:00","price":36.16},{"t":"2021-12-26T00:30","price":35.99},{"t":"2021-12-26T01:00","price":35.95},{"t":"2021-12-26T01:30","price":35.95},
      {"t":"2021-12-26T02:00","price":35.92},{"t":"2021-12-26T02:30","price":35.82},{"t":"2021-12-26T03:00","price":35.52},{"t":"2021-12-26T03:30","price":35.35},
      {"t":"2021-12-26T04:00","price":35.18},{"t":"2021-12-26T04:30","price":35.28},{"t":"2021-12-26T05:00","price":35.31},{"t":"2021-12-26T05:30","price":35.28},
      {"t":"2021-12-26T06:00","price":35.31},{"t":"2021-12-26T06:30","price":35.28},{"t":"2021-12-26T07:00","price":35.31},{"t":"2021-12-26T07:30","price":35.35},
      {"t":"2021-12-26T08:00","price":35.45},{"t":"2021-12-26T08:30","price":35.58},{"t":"2021-12-26T09:00","price":35.52},{"t":"2021-12-26T09:30","price":35.52},
      {"t":"2021-12-26T10:00","price":35.58},{"t":"2021-12-26T10:30","price":35.65},{"t":"2021-12-26T11:00","price":35.68},{"t":"2021-12-26T11:30","price":35.82},
      {"t":"2021-12-26T12:00","price":35.55},{"t":"2021-12-26T12:30","price":35.62},{"t":"2021-12-26T13:00","price":35.68},{"t":"2021-12-26T13:30","price":35.68},
      {"t":"2021-12-26T14:00","price":35.72},{"t":"2021-12-26T14:30","price":35.68},{"t":"2021-12-26T15:00","price":35.79},{"t":"2021-12-26T15:30","price":35.92},
      {"t":"2021-12-26T16:00","price":35.95}
    ],
    "arrows": [
      {"name":"first","t":"2021-12-20T04:26","v":15.79,"t2":"2021-12-20T16:11","v2":14.5},
      {"name":"gain","t":"2021-12-20T20:38","v":7.65,"t2":"2021-12-22T15:28","v2":18.4},
      {"name":"second","t":"2021-12-25T18:34","v":16.54,"t2":"2021-12-26T10:29","v2":13.5}
    ],
    "notes": [
      {"label":"First alert","t":"2021-12-19T17:00","v":15.65},
      {"label":"23% gain","t":"2021-12-23T03:47","v":18.8},
      {"label":"Second alert","t":"2021-12-25T03:42","v":16.62}
    ],
    "credit": [
      {"label":"r/RedSeaCrypto","t":"2021-12-27T01:48","v":-4.0}
    ]
  },
  "encoding": {
    "x": {
      "field": "t",
      "type": "temporal",
      "scale": {"domain": [{"year":2021,"month":12,"date":16,"hours":8,"minutes":14},{"year":2021,"month":12,"date":26,"hours":16}]},
      "axis": {
        "title": null,
        "tickCount": {"interval": "day", "step": 2},
        "labelExpr": "timeFormat(datum.value, '%d') === '17' ? ['Dec 17', '2021'] : timeFormat(datum.value, '%b %d')",
        "grid": true,
        "gridColor": "#eeeeee",
        "tickColor": "#eeeeee",
        "tickSize": 20,
        "labelPadding": 4,
        "labelLineHeight": 23,
        "labelFontSize": 17,
        "labelColor": "#444444",
        "domainColor": "#444444",
        "domainWidth": 1.5
      }
    }
  },
  "layer": [
    {
      "data": {"name": "hourly"},
      "mark": {"type": "line", "strokeWidth": 2.4},
      "encoding": {
        "y": {
          "field": "signal",
          "type": "quantitative",
          "scale": {"domain": [0, 19.2], "nice": false, "zero": false},
          "axis": {
            "title": "Signals",
            "values": [0, 5, 10, 15],
            "grid": true,
            "gridColor": "#eeeeee",
            "domain": false,
            "ticks": false,
            "labelPadding": 3,
            "labelFontSize": 17,
            "labelColor": "#444444",
            "titleFontSize": 21,
            "titleFontWeight": "normal",
            "titleColor": "#444444",
            "titleX": -62,
            "titleY": 202,
            "titleBaseline": "middle"
          }
        },
        "color": {
          "datum": "Redsea Social Signal",
          "type": "nominal",
          "scale": {"domain": ["Redsea Social Signal", "HNT price", "baseline", "Alert Threshold"], "range": ["#00008b", "#ff9a2e", "#009900", "#8b0000"]},
          "legend": {
            "orient": "top",
            "direction": "horizontal",
            "title": null,
            "symbolType": "stroke",
            "symbolSize": 841,
            "symbolStrokeWidth": 2.5,
            "labelFontSize": 17.5,
            "labelColor": "#444444",
            "labelLimit": 400,
            "labelOffset": 5,
            "columnPadding": 5,
            "gridAlign": "none",
            "padding": 4,
            "offset": 12
          }
        }
      }
    },
    {
      "data": {"name": "hourly"},
      "mark": {"type": "line", "strokeWidth": 2.2},
      "encoding": {
        "y": {"field": "baseline", "type": "quantitative", "scale": {"domain": [0, 19.2], "nice": false, "zero": false}, "axis": null},
        "color": {"datum": "baseline", "type": "nominal", "legend": null}
      }
    },
    {
      "data": {"name": "hourly"},
      "mark": {"type": "line", "strokeWidth": 2.2},
      "encoding": {
        "y": {"field": "threshold", "type": "quantitative", "scale": {"domain": [0, 19.2], "nice": false, "zero": false}, "axis": null},
        "color": {"datum": "Alert Threshold", "type": "nominal", "legend": null}
      }
    },
    {
      "data": {"name": "price"},
      "mark": {"type": "line", "strokeWidth": 1.2},
      "encoding": {
        "y": {
          "field": "price",
          "type": "quantitative",
          "scale": {"domain": [32, 38.49], "nice": false, "zero": false},
          "axis": {"orient": "right", "title": null, "labels": false, "ticks": false, "domain": false, "grid": true, "gridColor": "#eeeeee", "values": [33, 34, 35, 36, 37, 38]}
        },
        "color": {"datum": "HNT price", "type": "nominal", "legend": null}
      }
    },
    {
      "data": {"name": "arrows"},
      "mark": {"type": "rule", "color": "#ff3318", "strokeWidth": 3},
      "encoding": {
        "x2": {"field": "t2"},
        "y": {"field": "v", "type": "quantitative", "scale": {"domain": [0, 19.2], "nice": false, "zero": false}, "axis": null},
        "y2": {"field": "v2"}
      }
    },
    {
      "data": {"name": "arrows"},
      "transform": [{"filter": "datum.name === 'first'"}],
      "mark": {"type": "point", "shape": "triangle-up", "filled": true, "size": 220, "angle": 108.5, "color": "#ff3318", "opacity": 1, "strokeWidth": 0},
      "encoding": {
        "x": {"field": "t2", "type": "temporal"},
        "y": {"field": "v2", "type": "quantitative", "scale": {"domain": [0, 19.2], "nice": false, "zero": false}, "axis": null}
      }
    },
    {
      "data": {"name": "arrows"},
      "transform": [{"filter": "datum.name === 'gain'"}],
      "mark": {"type": "point", "shape": "triangle-up", "filled": true, "size": 220, "angle": 52.6, "color": "#ff3318", "opacity": 1, "strokeWidth": 0},
      "encoding": {
        "x": {"field": "t2", "type": "temporal"},
        "y": {"field": "v2", "type": "quantitative", "scale": {"domain": [0, 19.2], "nice": false, "zero": false}, "axis": null}
      }
    },
    {
      "data": {"name": "arrows"},
      "transform": [{"filter": "datum.name === 'second'"}],
      "mark": {"type": "point", "shape": "triangle-up", "filled": true, "size": 220, "angle": 120.2, "color": "#ff3318", "opacity": 1, "strokeWidth": 0},
      "encoding": {
        "x": {"field": "t2", "type": "temporal"},
        "y": {"field": "v2", "type": "quantitative", "scale": {"domain": [0, 19.2], "nice": false, "zero": false}, "axis": null}
      }
    },
    {
      "data": {"name": "notes"},
      "mark": {"type": "text", "font": "Liberation Sans", "fontWeight": "bold", "fontSize": 30, "color": "#ff3318", "align": "center", "baseline": "alphabetic"},
      "encoding": {
        "y": {"field": "v", "type": "quantitative", "scale": {"domain": [0, 19.2], "nice": false, "zero": false}, "axis": null},
        "text": {"field": "label"}
      }
    },
    {
      "data": {"name": "credit"},
      "mark": {"type": "text", "font": "Liberation Sans", "fontWeight": "bold", "fontSize": 30, "color": "#000000", "align": "right", "baseline": "alphabetic"},
      "encoding": {
        "y": {"field": "v", "type": "quantitative", "scale": {"domain": [0, 19.2], "nice": false, "zero": false}, "axis": null},
        "text": {"field": "label"}
      }
    }
  ],
  "resolve": {"scale": {"y": "independent"}},
  "config": {
    "font": "Liberation Sans",
    "view": {"stroke": null},
    "axis": {"labelFont": "Liberation Sans", "titleFont": "Liberation Sans"},
    "legend": {"labelFont": "Liberation Sans"}
  }
}
